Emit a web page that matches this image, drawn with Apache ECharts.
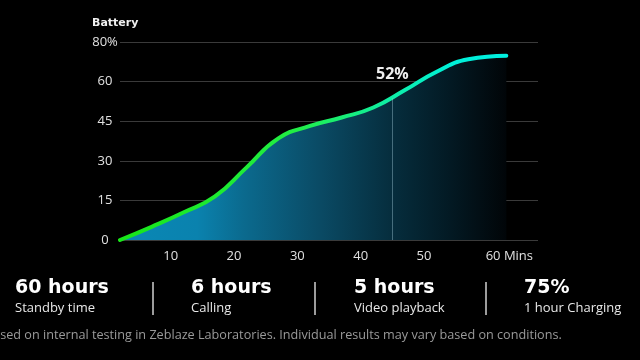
<!DOCTYPE html>
<html>
<head>
<meta charset="utf-8">
<script src="https://cdn.jsdelivr.net/npm/echarts@6/dist/echarts.min.js"></script>
<style>html,body{margin:0;padding:0;background:#000;}#c{width:640px;height:360px;}</style>
</head>
<body>
<div id="c"></div>
<script>
// Data
const minutes = [2, 7, 12, 17, 22, 27, 32, 37, 42, 47, 52, 57, 63];
const battery = [0, 5.0, 10.4, 16.5, 27.5, 38.5, 43.2, 46.4, 50.2, 56.8, 65, 71.3, 73.1];
const yTickLabels = ['0', '15', '30', '45', '60', '80%'];
const xTickValues = [10, 20, 30, 40, 50, 60];
const highlightMinute = 45;
const highlightValue = 53.7;
const highlightLabel = '52%';
const statValues = ['60 hours', '6 hours', '5 hours', '75%'];
const statLabels = ['Standby time', 'Calling', 'Video playback', '1 hour Charging'];
const footnote = 'Based on internal testing in Zeblaze Laboratories. Individual results may vary based on conditions.';

// The y axis ticks are equally spaced: 0,15,30,45,60,80 -> positions 0..5
function pos(p) { return p <= 60 ? p / 15 : 4 + (p - 60) / 20; }

const chart = echarts.init(document.getElementById('c'));
const statX = [15, 191, 354, 524];
const dividerX = [153, 315, 486];
const graphics = [];
statValues.forEach((v, i) => {
  graphics.push({type: 'text', left: statX[i], top: 279,
    style: {text: v, fill: '#ffffff', font: 'bold 19px "DejaVu Sans"'}});
  graphics.push({type: 'text', left: statX[i], top: 302,
    style: {text: statLabels[i], fill: '#e8e8e8', font: '13px "Open Sans"'}});
});
dividerX.forEach(x => {
  graphics.push({type: 'line', shape: {x1: x, y1: 282, x2: x, y2: 315},
    style: {stroke: '#d0d0d0', lineWidth: 1.5}});
});
graphics.push({type: 'text', left: -15, top: 329,
  style: {text: footnote, fill: '#9a9a9a', font: '12.65px "Open Sans"'}});

chart.setOption({
  backgroundColor: '#000',
  animation: false,
  title: {text: 'Battery', left: 87, top: 13,
    textStyle: {color: '#f0f0f0', fontSize: 11, fontWeight: 'bold', fontFamily: 'DejaVu Sans'}},
  grid: {left: 120, right: 102, top: 42, bottom: 120},
  xAxis: {
    type: 'value', min: 2, max: 68,
    axisLine: {show: false}, axisTick: {show: false}, splitLine: {show: false},
    axisLabel: {
      customValues: xTickValues, color: '#e0e0e0', fontSize: 13, fontFamily: 'Open Sans', margin: 10,
      formatter: v => v === 60 ? '{m|60 Mins}' : String(v),
      rich: {m: {color: '#e0e0e0', fontSize: 13, fontFamily: 'Open Sans', padding: [0, 0, 0, 44]}}
    }
  },
  yAxis: {
    type: 'value', min: 0, max: 5, interval: 1,
    axisLine: {show: false}, axisTick: {show: false},
    splitLine: {lineStyle: {color: '#3a3a3a', width: 1}},
    axisLabel: {color: '#e0e0e0', fontSize: 13, fontFamily: 'Open Sans', align: 'center', margin: 15,
      formatter: (v) => yTickLabels[Math.round(v)]}
  },
  graphic: graphics,
  series: [{
    type: 'line', smooth: 0.5, symbol: 'none',
    data: minutes.map((m, i) => [m, pos(battery[i])]),
    lineStyle: {width: 4, cap: 'round',
      color: new echarts.graphic.LinearGradient(0, 0, 1, 0, [
        {offset: 0, color: '#18e618'},
        {offset: 0.45, color: '#22ee44'},
        {offset: 0.68, color: '#10eea0'},
        {offset: 0.85, color: '#00f0d8'},
        {offset: 1, color: '#00f0e0'}])},
    areaStyle: {opacity: 1,
      color: new echarts.graphic.LinearGradient(0, 0, 1, 0, [
        {offset: 0, color: '#0a88b6'},
        {offset: 0.2, color: '#0a82ae'},
        {offset: 0.32, color: '#0b6a8e'},
        {offset: 0.52, color: '#0a4a64'},
        {offset: 0.7, color: '#062e3e'},
        {offset: 0.85, color: '#031a24'},
        {offset: 1, color: '#010508'}])},
    markLine: {
      silent: true, symbol: 'none', label: {show: false},
      lineStyle: {color: 'rgba(150,190,205,0.45)', width: 1, type: 'solid'},
      data: [[{coord: [highlightMinute, 0]}, {coord: [highlightMinute, pos(highlightValue)]}]]
    },
    markPoint: {
      symbol: 'circle', symbolSize: 0,
      label: {show: true, formatter: highlightLabel, color: '#eeeeee', fontSize: 16,
        fontWeight: 'bold', fontFamily: 'Open Sans', offset: [0, -24]},
      data: [{coord: [highlightMinute, pos(highlightValue)]}]
    }
  }]
});
</script>
</body>
</html>
